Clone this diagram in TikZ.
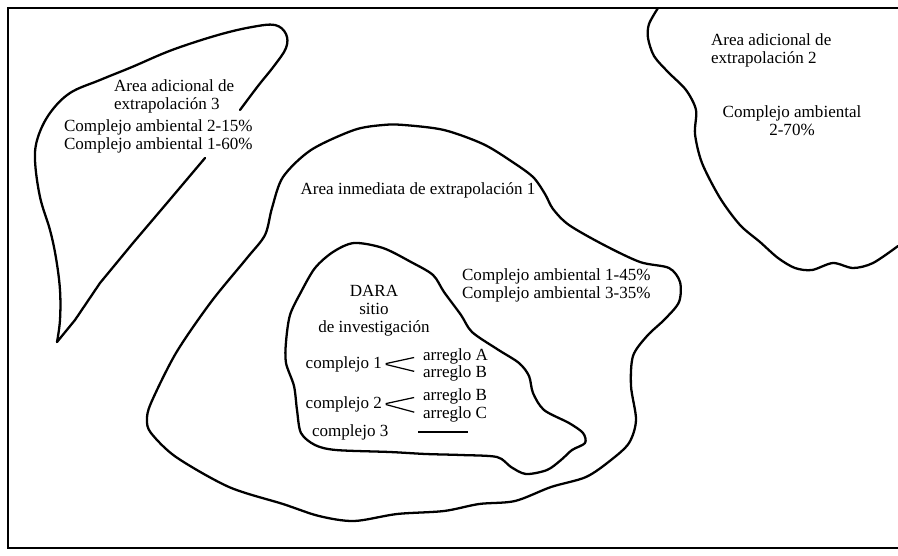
\documentclass[tikz,border=0pt]{standalone}
\usepackage{fontspec}
\setmainfont{Liberation Serif}

\begin{document}
\begin{tikzpicture}[x=0.02cm,y=-0.02cm,
  zone/.style={line width=1.3pt,line join=round,line cap=round},
  lbl/.style={font=\fontsize{9.7}{10.2}\selectfont,inner sep=1pt,align=left},
  branch/.style={line width=0.7pt,shorten >=4pt,shorten <=1pt}]

\useasboundingbox (0,0) rectangle (898,555);
\draw [line width=1pt] (898,8) -- (8,8) -- (8,548) -- (898,548);

% Area adicional 3
\draw [zone] plot[smooth,tension=0.6] coordinates {(240,110) (258,86) (274,66) (286,48) (286,34) (275,25) (252,27) (218,35) (172,50) (132,67) (100,80) (70,93) (50,113) (38,137) (35,160) (40,197) (50,230) (56,258) (60,290) (60,320) (57,342)};
\draw [zone] (57,342) -- (75,320) -- (100,283) -- (133,243) -- (167,203) -- (205,158);

% Area adicional 2
\draw [zone] plot[smooth] coordinates {(658,8) (649,24) (648,38) (654,56) (668,72) (686,90) (696,110) (695,134) (702,163) (720,198) (740,225) (760,242) (778,258) (795,268) (812,270) (833,263) (853,268) (873,263) (898,246)};

% Area inmediata 1
\draw [zone] plot[smooth cycle] coordinates {(383,125) (404,125) (444,130) (483,144) (511,161) (533,177) (545,194) (553,209) (569,225) (604,245) (640,262) (669,268) (680,282) (679,302) (665,319) (647,336) (633,356) (631,386) (636,420) (629,443) (611,460) (586,477) (551,487) (515,501) (479,504) (444,511) (397,514) (354,521) (319,516) (283,504) (229,487) (176,457) (151,433) (147,420) (151,403) (176,353) (211,302) (247,258) (265,235) (272,208) (283,177) (311,150) (354,130)};

% DARA
\draw [zone] plot[smooth cycle] coordinates {(354,243) (383,248) (411,262) (433,275) (444,292) (461,315) (472,332) (497,349) (519,363) (529,376) (533,393) (544,410) (569,423) (583,433) (585,443) (572,450) (561,460) (547,470) (526,474) (511,467) (497,457) (461,455) (426,454) (390,452) (336,450) (315,445) (301,433) (297,410) (294,386) (286,363) (286,342) (290,315) (301,292) (315,268) (333,252)};

\node[lbl,anchor=west] (area3) at (112,96) {Area adicional de\\extrapolación 3};
\node[lbl,anchor=west] (amb3) at (62,136) {Complejo ambiental 2-15\%\\Complejo ambiental 1-60\%};
\node[lbl,anchor=west] (area2) at (709,50) {Area adicional de\\extrapolación 2};
\node[lbl,align=center] (amb2) at (792,121) {Complejo ambiental\\2-70\%};
\node[lbl] (area1) at (418,190) {Area inmediata de extrapolación 1};
\node[lbl,anchor=west] (amb1) at (460,285) {Complejo ambiental 1-45\%\\Complejo ambiental 3-35\%};
\node[lbl,align=center] (dara) at (374,311) {DARA\\sitio\\de investigación};

\node[lbl,anchor=east] (cx1) at (384,364) {complejo 1};
\node[lbl,anchor=west] (ra1) at (421,356) {arreglo A};
\node[lbl,anchor=west] (rb1) at (421,373) {arreglo B};
\node[lbl,anchor=east] (cx2) at (384,404) {complejo 2};
\node[lbl,anchor=west] (rb2) at (421,396) {arreglo B};
\node[lbl,anchor=west] (rc2) at (421,414) {arreglo C};
\node[lbl,anchor=west] (cx3) at (310,432) {complejo 3};
\coordinate (nil3a) at (418,432);
\coordinate (nil3b) at (468,432);

\draw [branch] (cx1.east) -- (ra1.west);
\draw [branch] (cx1.east) -- (rb1.west);
\draw [branch] (cx2.east) -- (rb2.west);
\draw [branch] (cx2.east) -- (rc2.west);
\draw [line width=0.7pt] (nil3a) -- (nil3b);
\end{tikzpicture}
\end{document}
